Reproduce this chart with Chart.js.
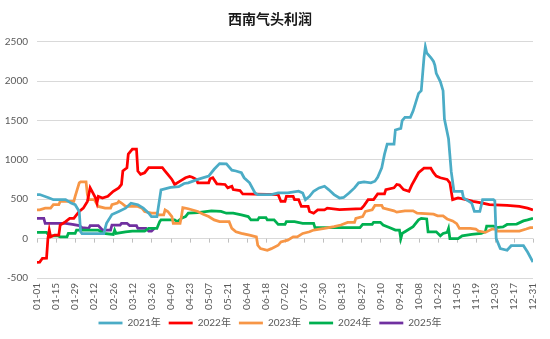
<!DOCTYPE html>
<html>
<head>
<meta charset="utf-8">
<title>西南气头利润</title>
<script src="https://cdn.jsdelivr.net/npm/chart.js@4.4.1/dist/chart.umd.min.js"></script>
<style>
    html, body { margin: 0; padding: 0; background: #ffffff; }
</style>
</head>
<body>
<canvas id="profitChart" width="550" height="339"></canvas>
<script>

// DATA (x = day of year, 0 = 01-01)

const seriesNames = ['2021年', '2022年', '2023年', '2024年', '2025年'];

const day2021 = [0, 2, 9, 12, 21, 25, 28, 31, 32, 33, 49, 51, 55, 60, 65, 69, 74, 78, 82, 84, 88, 91, 98, 104, 108, 111, 118, 126, 130, 134, 139, 143, 146, 150, 152, 156, 160, 162, 172, 177, 184, 192, 195, 197, 200, 203, 207, 211, 214, 218, 222, 225, 229, 233, 236, 240, 245, 248, 250, 253, 255, 257, 262, 263, 267, 268, 270, 274, 276, 280, 282, 284, 285, 286, 289, 291, 292, 293, 296, 298, 299, 302, 304, 306, 312, 313, 319, 321, 325, 327, 335, 336, 337, 340, 345, 348, 357, 360, 364];
const val2021 = [560, 560, 516, 495, 495, 452, 431, 345, 87, 65, 65, 195, 305, 345, 387, 450, 430, 387, 323, 280, 280, 620, 650, 660, 700, 709, 752, 795, 881, 953, 949, 870, 859, 837, 773, 709, 580, 559, 559, 580, 580, 602, 580, 495, 537, 602, 644, 666, 623, 559, 516, 523, 580, 644, 709, 722, 709, 730, 780, 900, 1070, 1200, 1200, 1380, 1400, 1500, 1540, 1540, 1620, 1845, 1880, 2300, 2437, 2360, 2300, 2250, 2200, 2100, 1995, 1880, 1520, 1270, 850, 600, 600, 516, 452, 345, 345, 495, 495, 480, 0, -127, -148, -90, -90, -170, -298];

const day2022 = [0, 2, 4, 7, 8, 9, 10, 13, 16, 17, 21, 24, 27, 29, 31, 34, 37, 39, 41, 43, 44, 45, 48, 52, 56, 60, 62, 63, 66, 67, 70, 73, 74, 76, 79, 82, 92, 94, 96, 99, 101, 105, 109, 112, 114, 117, 118, 126, 127, 129, 132, 138, 140, 143, 144, 149, 151, 177, 179, 182, 183, 188, 189, 192, 194, 199, 200, 203, 206, 211, 213, 222, 238, 240, 243, 247, 250, 255, 256, 262, 264, 266, 269, 273, 275, 278, 280, 284, 289, 291, 293, 296, 301, 303, 305, 309, 315, 320, 327, 332, 345, 354, 360, 364];
const val2022 = [-300, -298, -250, -247, 0, 109, 23, 45, 45, 173, 216, 258, 258, 302, 345, 387, 473, 645, 580, 516, 452, 537, 516, 537, 602, 645, 688, 859, 901, 1074, 1138, 1138, 859, 816, 837, 901, 901, 859, 816, 752, 688, 730, 773, 790, 780, 752, 709, 709, 760, 773, 696, 688, 645, 666, 623, 610, 567, 559, 473, 473, 537, 537, 495, 495, 409, 409, 345, 323, 366, 366, 387, 370, 380, 420, 495, 495, 567, 567, 623, 645, 688, 680, 623, 602, 679, 773, 837, 894, 894, 837, 795, 773, 752, 709, 495, 516, 495, 473, 452, 431, 422, 409, 387, 366];

const day2023 = [0, 2, 6, 10, 12, 16, 17, 27, 28, 31, 32, 36, 37, 38, 42, 45, 50, 54, 55, 59, 60, 62, 65, 74, 77, 79, 84, 88, 89, 93, 94, 96, 99, 100, 105, 106, 107, 111, 118, 122, 126, 130, 134, 141, 143, 146, 150, 156, 161, 162, 164, 169, 172, 177, 179, 184, 188, 191, 195, 200, 203, 211, 218, 223, 228, 233, 234, 239, 241, 246, 248, 253, 254, 262, 264, 270, 276, 279, 291, 294, 298, 301, 305, 308, 310, 318, 322, 324, 329, 334, 337, 338, 354, 359, 362, 364];
const val2023 = [366, 366, 387, 387, 431, 431, 473, 473, 537, 709, 722, 722, 559, 495, 495, 409, 387, 387, 431, 452, 473, 452, 409, 409, 387, 345, 323, 323, 302, 302, 366, 345, 280, 195, 195, 280, 395, 380, 345, 310, 280, 238, 216, 216, 130, 87, 66, 45, 23, -84, -127, -148, -127, -84, -41, -19, 23, 23, 66, 87, 109, 130, 152, 173, 205, 205, 258, 280, 345, 366, 422, 422, 387, 353, 336, 353, 353, 323, 310, 289, 289, 250, 225, 190, 130, 130, 120, 96, 79, 122, 122, 96, 96, 122, 139, 139];

const day2024 = [0, 7, 9, 15, 17, 22, 23, 28, 29, 45, 49, 56, 57, 58, 65, 70, 79, 82, 88, 90, 91, 101, 103, 106, 109, 111, 118, 128, 135, 139, 144, 150, 155, 157, 162, 163, 168, 169, 174, 177, 182, 183, 189, 195, 203, 204, 237, 239, 246, 247, 252, 254, 259, 263, 266, 267, 268, 270, 276, 280, 282, 286, 287, 293, 296, 298, 301, 302, 303, 309, 312, 319, 326, 329, 330, 335, 337, 342, 345, 352, 357, 360, 364];
const val2024 = [79, 79, 36, 36, 23, 23, 66, 66, 109, 109, 66, 53, 109, 66, 87, 96, 96, 130, 130, 216, 238, 238, 216, 258, 280, 323, 330, 353, 345, 323, 323, 302, 280, 238, 238, 267, 267, 238, 238, 181, 181, 216, 216, 195, 195, 139, 139, 181, 181, 207, 207, 173, 139, 109, 109, 1, 66, 87, 152, 238, 258, 250, 87, 87, 36, 66, 80, 130, 1, 1, 36, 53, 66, 87, 160, 160, 140, 150, 180, 185, 225, 238, 258];

const day2025 = [0, 5, 6, 21, 26, 31, 33, 38, 39, 45, 48, 54, 55, 61, 62, 66, 68, 73, 74, 80, 82, 84, 86];
const val2025 = [258, 258, 195, 195, 181, 165, 139, 130, 165, 165, 109, 109, 173, 173, 195, 195, 165, 165, 130, 130, 96, 96, 130];

const yTicks = [-500, 0, 500, 1000, 1500, 2000, 2500];
const lineColors = ['#4bacc6', '#ff0000', '#f79646', '#00b050', '#7030a0'];

// BUILD DATASETS

const allDays = [day2021, day2022, day2023, day2024, day2025];
const allVals = [val2021, val2022, val2023, val2024, val2025];

const datasets = seriesNames.map((name, i) => ({
    label: name,
    data: allDays[i].map((d, j) => ({ x: d, y: allVals[i][j] })),
    borderColor: lineColors[i],
    backgroundColor: lineColors[i],
    borderWidth: 2.75,
    pointRadius: 0,
    tension: 0,
    fill: false
}));

function dayLabel(d) {
    const dt = new Date(2021, 0, 1 + d);
    const mm = String(dt.getMonth() + 1).padStart(2, '0');
    const dd = String(dt.getDate()).padStart(2, '0');
    return mm + '-' + dd;
}

// small tick marks on the zero line, like the original axis

const zeroTicks = {
    id: 'zeroTicks',
    beforeDatasetsDraw(chart) {
        const x = chart.scales.x;
        const y0 = chart.scales.y.getPixelForValue(0);
        const c = chart.ctx;
        c.save();
        c.strokeStyle = '#bfbfbf';
        c.lineWidth = 1;
        c.beginPath();
        x.ticks.forEach(t => {
            const px = Math.round(x.getPixelForValue(t.value)) + 0.5;
            c.moveTo(px, y0);
            c.lineTo(px, y0 + 4);
        });
        c.stroke();
        c.restore();
    }
};

const fontFamily = "Lato, 'Noto Sans CJK SC', sans-serif";

new Chart(document.getElementById('profitChart'), {
    type: 'line',
    data: { datasets: datasets },
    plugins: [zeroTicks],
    options: {
        responsive: false,
        animation: false,
        devicePixelRatio: 1,
        layout: {
            padding: { left: 0, right: 10, top: 0, bottom: 1 }
        },
        plugins: {
            title: {
                display: true,
                text: '西南气头利润',
                color: '#1a1a1a',
                font: { family: "'Noto Sans CJK SC', sans-serif", size: 14, weight: 'bold' },
                padding: { top: 10, bottom: 15 }
            },
            legend: {
                position: 'bottom',
                labels: {
                    usePointStyle: true,
                    pointStyle: 'line',
                    pointStyleWidth: 24,
                    boxHeight: 11,
                    color: '#595959',
                    padding: 8,
                    font: { family: fontFamily, size: 10 }
                }
            },
            tooltip: { enabled: false }
        },
        scales: {
            x: {
                type: 'linear',
                min: 0,
                max: 364,
                grid: { display: false, drawTicks: false },
                border: { display: false },
                afterFit: scale => { scale.height = 32; },
                ticks: {
                    stepSize: 14,
                    autoSkip: false,
                    minRotation: 90,
                    maxRotation: 90,
                    padding: 5,
                    color: '#595959',
                    font: { family: fontFamily, size: 10 },
                    callback: v => dayLabel(v)
                }
            },
            y: {
                min: yTicks[0],
                max: yTicks[yTicks.length - 1],
                afterFit: scale => { scale.width = 37; },
                grid: { color: '#d9d9d9', drawTicks: false },
                border: { display: false },
                afterBuildTicks: scale => {
                    scale.ticks = yTicks.map(v => ({ value: v }));
                },
                ticks: {
                    padding: 9,
                    color: '#595959',
                    font: { family: fontFamily, size: 10 },
                    callback: v => String(v)
                }
            }
        }
    }
});

</script>
</body>
</html>
